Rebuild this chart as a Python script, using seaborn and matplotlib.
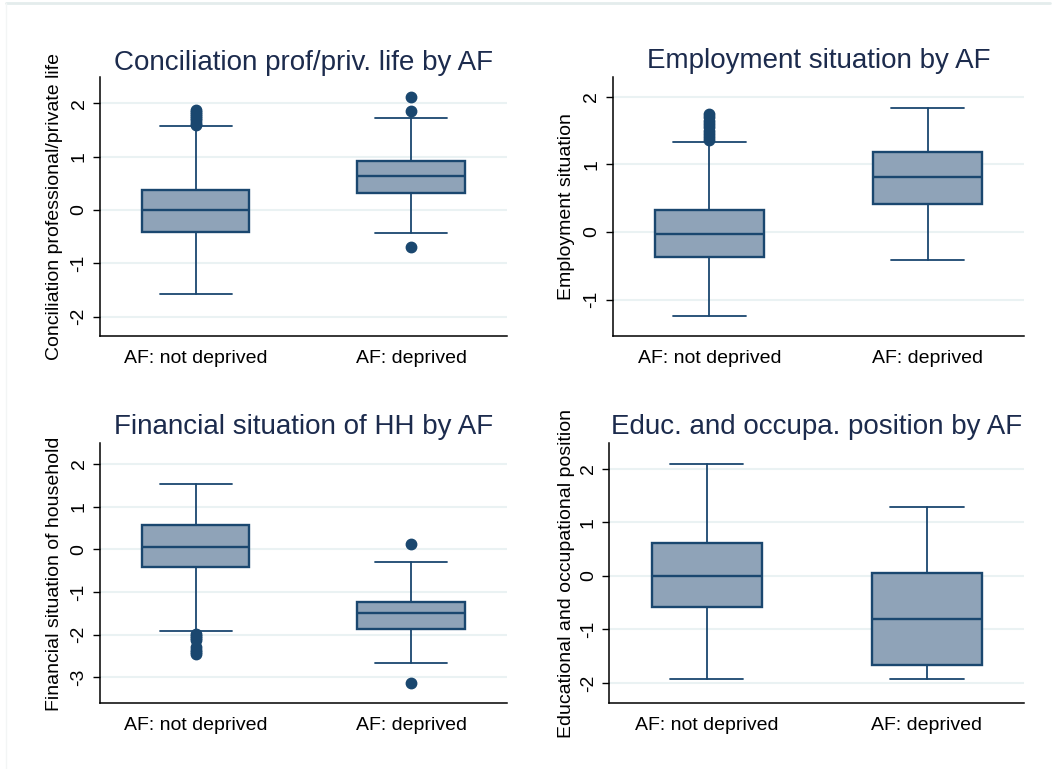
import matplotlib
matplotlib.use("Agg")
import matplotlib.pyplot as plt
import seaborn as sns
from matplotlib.lines import Line2D

# categories on the x axis
groups = ["AF: not deprived", "AF: deprived"]

titles = ["Conciliation prof/priv. life by AF",
          "Employment situation by AF",
          "Financial situation of HH by AF",
          "Educ. and occupa. position by AF"]
ylabels = ["Conciliation professional/private life",
           "Employment situation",
           "Financial situation of household",
           "Educational and occupational position"]

# box summaries per group: lower whisker, q1, median, q3, upper whisker
concil_box = [[-1.58, -0.41, 0.0, 0.375, 1.575],
              [-0.425, 0.325, 0.644, 0.925, 1.73]]
concil_out = [[1.60, 1.64, 1.68, 1.72, 1.76, 1.80, 1.84, 1.88],
              [2.12, 1.86, -0.69]]

employ_box = [[-1.246, -0.374, -0.025, 0.32, 1.325],
              [-0.414, 0.409, 0.813, 1.177, 1.842]]
employ_out = [[1.36, 1.40, 1.45, 1.50, 1.55, 1.60, 1.65, 1.70, 1.74],
              []]

financ_box = [[-1.906, -0.42, 0.047, 0.5625, 1.539],
              [-2.672, -1.867, -1.50, -1.234, -0.289]]
financ_out = [[-1.98, -2.03, -2.08, -2.12, -2.30, -2.35, -2.40, -2.46],
              [0.117, -3.14]]

educ_box = [[-1.932, -0.578, -0.012, 0.602, 2.087],
            [-1.932, -1.665, -0.814, 0.043, 1.273]]
educ_out = [[], []]

yticks = [[-2, -1, 0, 1, 2], [-1, 0, 1, 2], [-3, -2, -1, 0, 1, 2], [-2, -1, 0, 1, 2]]
ylims = [(-2.36, 2.5), (-1.54, 2.29), (-3.61, 2.48), (-2.38, 2.47)]

navy = "#1a476f"
fill = "#8fa3b8"
title_col = "#1c2b4d"

sns.set_theme(style="white")
plt.rcParams["font.family"] = ["Liberation Sans", "DejaVu Sans"]

fig = plt.figure(figsize=(10.53, 7.69), dpi=100)

# axes rectangles [left, bottom, width, height]
rects = [[0.095, 0.5631, 0.3862, 0.3372],
         [0.5819, 0.5631, 0.3909, 0.3364],
         [0.095, 0.0854, 0.3862, 0.3381],
         [0.5786, 0.0854, 0.3941, 0.3381]]
label_x = [-0.09, -0.0916, -0.091, -0.0827]
title_pad = [5, 7, 7, 7]

panels = [(concil_box, concil_out), (employ_box, employ_out),
          (financ_box, financ_out), (educ_box, educ_out)]

for i, (boxes, outs) in enumerate(panels):
    ax = fig.add_axes(rects[i])
    stats = []
    for (lo, q1, med, q3, hi), fl in zip(boxes, outs):
        stats.append(dict(whislo=lo, q1=q1, med=med, q3=q3, whishi=hi, fliers=fl))
    ax.bxp(stats, positions=[0, 1], widths=0.5, capwidths=0.334,
           patch_artist=True, showfliers=True,
           boxprops=dict(facecolor=fill, edgecolor=navy, linewidth=1.7),
           medianprops=dict(color=navy, linewidth=1.7),
           whiskerprops=dict(color=navy, linewidth=1.3),
           capprops=dict(color=navy, linewidth=1.3),
           flierprops=dict(marker="o", markerfacecolor=navy, markeredgecolor=navy,
                           markersize=7.5, linestyle="none"))
    ax.set_xlim(-0.443, 1.443)
    ax.set_ylim(*ylims[i])
    ax.set_xticks([0, 1])
    ax.set_xticklabels(groups)
    ax.set_yticks(yticks[i])
    ax.set_yticklabels([str(t) for t in yticks[i]], rotation=90, va="center")
    ax.tick_params(axis="x", length=0, pad=10, labelsize=14, colors="black")
    ax.tick_params(axis="y", length=5, width=1, pad=4, labelsize=14,
                   colors="black", left=True)
    ax.yaxis.grid(True, color="#eaf2f3", linewidth=1.5)
    ax.set_axisbelow(True)
    sns.despine(ax=ax)
    for s in ["left", "bottom"]:
        ax.spines[s].set_color("black")
        ax.spines[s].set_linewidth(1.1)
    ax.set_ylabel(ylabels[i], fontsize=14, color="black")
    ax.yaxis.set_label_coords(label_x[i], 0.5)
    ax.set_title(titles[i], fontsize=20, color=title_col, pad=title_pad[i])

# faint frame line at the top of the image
fig.add_artist(Line2D([0.006, 0.997], [0.9955, 0.9955], color="#e4ecec", linewidth=2))
fig.add_artist(Line2D([0.006, 0.006], [0.0, 0.9955], color="#f3f5f5", linewidth=1))

fig.savefig("out.png", dpi=100)
